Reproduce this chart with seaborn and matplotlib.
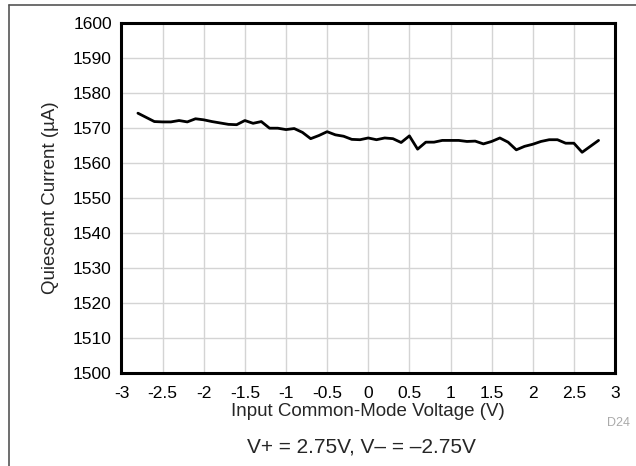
import matplotlib
matplotlib.use("Agg")
import matplotlib.pyplot as plt
import seaborn as sns
import pandas as pd
from matplotlib.lines import Line2D

# Input common-mode voltage (V)
vcm = [-2.8, -2.7, -2.6, -2.5, -2.4, -2.3, -2.2, -2.1, -2.0, -1.9,
       -1.8, -1.7, -1.6, -1.5, -1.4, -1.3, -1.2, -1.1, -1.0, -0.9,
       -0.8, -0.7, -0.6, -0.5, -0.4, -0.3, -0.2, -0.1, 0.0, 0.1,
       0.2, 0.3, 0.4, 0.5, 0.6, 0.7, 0.8, 0.9, 1.0, 1.1,
       1.2, 1.3, 1.4, 1.5, 1.6, 1.7, 1.8, 1.9, 2.0, 2.1,
       2.2, 2.3, 2.4, 2.5, 2.6, 2.7, 2.8]
# Quiescent current (uA)
iq = [1574.3, 1573.1, 1571.9, 1571.8, 1571.8, 1572.2, 1571.8, 1572.7, 1572.4, 1571.9,
      1571.5, 1571.1, 1571.0, 1572.2, 1571.4, 1571.9, 1570.0, 1570.0, 1569.6, 1569.9,
      1568.8, 1567.0, 1567.9, 1569.0, 1568.1, 1567.7, 1566.8, 1566.7, 1567.2, 1566.7,
      1567.2, 1567.0, 1565.9, 1567.8, 1564.0, 1566.0, 1566.0, 1566.5, 1566.5, 1566.5,
      1566.2, 1566.3, 1565.5, 1566.2, 1567.2, 1566.0, 1563.8, 1564.8, 1565.4, 1566.2,
      1566.7, 1566.7, 1565.7, 1565.7, 1563.1, 1564.8, 1566.5]

xticks = [-3, -2.5, -2, -1.5, -1, -0.5, 0, 0.5, 1, 1.5, 2, 2.5, 3]
xtick_labels = ["-3", "-2.5", "-2", "-1.5", "-1", "-0.5", "0", "0.5", "1", "1.5", "2", "2.5", "3"]
yticks = [1500, 1510, 1520, 1530, 1540, 1550, 1560, 1570, 1580, 1590, 1600]

df = pd.DataFrame({"vcm": vcm, "iq": iq})

sns.set_style("white")
plt.rcParams["font.family"] = ["Liberation Sans", "DejaVu Sans"]

fig = plt.figure(figsize=(6.36, 4.66), dpi=100)
ax = fig.add_axes([0.191, 0.2006, 0.776, 0.749])

sns.lineplot(data=df, x="vcm", y="iq", ax=ax, color="black", linewidth=2.0)

ax.set_xlim(-3, 3)
ax.set_ylim(1500, 1600)
ax.set_xticks(xticks)
ax.set_xticklabels(xtick_labels)
ax.set_yticks(yticks)
ax.grid(True, color="#d4d4d4", linewidth=1.0)
ax.set_axisbelow(True)
ax.tick_params(axis="x", length=0, labelsize=12.5, pad=10, colors="black")
ax.tick_params(axis="y", length=0, labelsize=12.5, pad=7, colors="black")
for s in ax.spines.values():
    s.set_visible(True)
    s.set_color("black")
    s.set_linewidth(2.2)

ax.set_xlabel("Input Common-Mode Voltage (V)", fontsize=13.5, labelpad=1)
ax.set_ylabel("Quiescent Current (\u00b5A)", fontsize=13.5, labelpad=10)

fig.text(0.990, 0.092, "D24", color="#aaaaaa", fontsize=9, ha="right", va="center")
fig.text(0.568, 0.040, "V+ = 2.75V, V\u2013 = \u20132.75V", fontsize=15, ha="center", va="center")

# outer frame lines (left and top)
fig.add_artist(Line2D([9 / 636, 9 / 636], [0, 1 - 4.7 / 466], color="#555555", linewidth=1.2))
fig.add_artist(Line2D([9 / 636, 1], [1 - 4.7 / 466, 1 - 4.7 / 466], color="#555555", linewidth=1.2))

fig.savefig("out.png", dpi=100, facecolor="white")
